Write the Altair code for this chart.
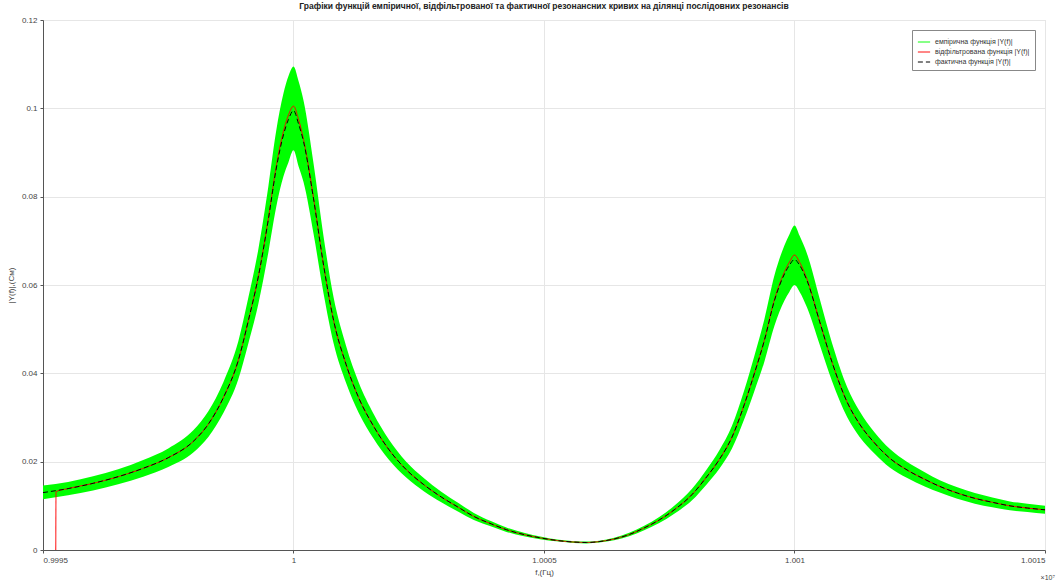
import altair as alt
import pandas as pd

BASE_HZ = 9995000

# frequency offsets (Hz) from 9 995 000 Hz
freq_offset_hz = [0, 500, 1000, 1500, 2000, 2500, 3000, 3300, 3600, 3900, 4100, 4300, 4500,
                  4650, 4800, 4900, 5000, 5100, 5200, 5400, 5600, 5800, 6050, 6300, 6600,
                  6900, 7250, 7600, 7950, 8300, 8600, 8950, 9250, 9600, 9950, 10300, 10600,
                  10850, 11100, 11400, 11700, 12000, 12300, 12600, 12950, 13250, 13500,
                  13750, 14000, 14200, 14400, 14600, 14800, 14900, 15000, 15100, 15250,
                  15500, 15750, 16050, 16300, 16600, 16900, 17250, 17600, 17900, 18250,
                  18600, 18950, 19300, 19650, 20000]

# actual (black dashed) |Y(f)|
actual = [0.0130, 0.0139, 0.0151, 0.0166, 0.0185, 0.0209, 0.0246, 0.0285, 0.0345, 0.0430,
          0.0520, 0.0620, 0.0750, 0.0860, 0.0940, 0.0975, 0.0995, 0.0965, 0.0925, 0.0795,
          0.0645, 0.0520, 0.0420, 0.0345, 0.0280, 0.0228, 0.0182, 0.0148, 0.0120, 0.0096,
          0.0076, 0.0059, 0.0046, 0.0035, 0.0027, 0.0021, 0.0018, 0.0017, 0.0019, 0.0025,
          0.0035, 0.0050, 0.0068, 0.0091, 0.0125, 0.0166, 0.0205, 0.0255, 0.0330, 0.0400,
          0.0475, 0.0565, 0.0625, 0.0645, 0.0658, 0.0645, 0.0610, 0.0518, 0.0425, 0.0335,
          0.0285, 0.0242, 0.0208, 0.0181, 0.0160, 0.0144, 0.0129, 0.0117, 0.0108, 0.0100,
          0.0095, 0.0091]

# empirical (green) band envelope
emp_upper = [0.0146, 0.0154, 0.0167, 0.0183, 0.0204, 0.0230, 0.0271, 0.0314, 0.0380, 0.0473,
             0.0572, 0.0682, 0.0825, 0.0946, 0.1034, 0.1073, 0.1095, 0.1062, 0.1018, 0.0875,
             0.0710, 0.0572, 0.0462, 0.0380, 0.0308, 0.0251, 0.0200, 0.0163, 0.0132, 0.0106,
             0.0084, 0.0065, 0.0051, 0.0039, 0.0030, 0.0023, 0.0020, 0.0019, 0.0021, 0.0028,
             0.0039, 0.0055, 0.0075, 0.0100, 0.0138, 0.0183, 0.0226, 0.0281, 0.0363, 0.0440,
             0.0523, 0.0622, 0.0690, 0.0715, 0.0735, 0.0712, 0.0671, 0.0570, 0.0468, 0.0369,
             0.0314, 0.0266, 0.0229, 0.0199, 0.0176, 0.0158, 0.0142, 0.0129, 0.0119, 0.0110,
             0.0105, 0.0100]
emp_lower = [0.0115, 0.0124, 0.0135, 0.0149, 0.0166, 0.0188, 0.0221, 0.0256, 0.0310, 0.0387,
             0.0468, 0.0558, 0.0675, 0.0774, 0.0846, 0.0878, 0.0905, 0.0869, 0.0833, 0.0716,
             0.0581, 0.0468, 0.0378, 0.0311, 0.0252, 0.0205, 0.0164, 0.0133, 0.0108, 0.0086,
             0.0068, 0.0053, 0.0041, 0.0031, 0.0024, 0.0019, 0.0016, 0.0015, 0.0017, 0.0022,
             0.0031, 0.0045, 0.0061, 0.0082, 0.0112, 0.0149, 0.0184, 0.0229, 0.0297, 0.0360,
             0.0427, 0.0508, 0.0565, 0.0585, 0.0600, 0.0585, 0.0549, 0.0466, 0.0382, 0.0301,
             0.0256, 0.0218, 0.0187, 0.0163, 0.0144, 0.0130, 0.0116, 0.0105, 0.0097, 0.0090,
             0.0086, 0.0082]

# filtered (red) |Y(f)| — starts with the filter transient at ~260 Hz
filt_offset_hz = [255, 260] + freq_offset_hz[1:]
filtered = [0.0, 0.0132, 0.0139, 0.0151, 0.0166, 0.0185, 0.0209, 0.0246, 0.0285, 0.0345, 0.0430,
            0.0520, 0.0620, 0.0752, 0.0865, 0.0948, 0.0985, 0.1005, 0.0975, 0.0930, 0.0797,
            0.0645, 0.0520, 0.0420, 0.0345, 0.0280, 0.0228, 0.0182, 0.0148, 0.0120, 0.0096,
            0.0076, 0.0059, 0.0046, 0.0035, 0.0027, 0.0021, 0.0018, 0.0017, 0.0019, 0.0025,
            0.0035, 0.0050, 0.0068, 0.0091, 0.0125, 0.0166, 0.0205, 0.0255, 0.0330, 0.0400,
            0.0476, 0.0567, 0.0630, 0.0652, 0.0668, 0.0652, 0.0613, 0.0518, 0.0425, 0.0335,
            0.0285, 0.0242, 0.0208, 0.0181, 0.0160, 0.0144, 0.0129, 0.0117, 0.0108, 0.0100,
            0.0095, 0.0091]

series_names = ["емпірична функція |Y(f)|", "відфільтрована функція |Y(f)|", "фактична функція |Y(f)|"]
series_colors = ["#00ff00", "#ff0000", "#000000"]
series_dash = [[1, 0], [1, 0], [5, 3]]

x_ticks = [0.9995, 1, 1.0005, 1.001, 1.0015]
y_ticks = [0, 0.02, 0.04, 0.06, 0.08, 0.1, 0.12]

band = pd.DataFrame({
    "f": [(BASE_HZ + o) / 1e7 for o in freq_offset_hz],
    "lo": emp_lower,
    "hi": emp_upper,
})

rows = []
for i, (o, v) in enumerate(zip(filt_offset_hz, filtered)):
    rows.append({"f": (BASE_HZ + o) / 1e7, "y": v, "series": series_names[1], "idx": i})
for i, (o, v) in enumerate(zip(freq_offset_hz, actual)):
    rows.append({"f": (BASE_HZ + o) / 1e7, "y": v, "series": series_names[2], "idx": i})
lines = pd.DataFrame(rows)

FONT = "Liberation Sans"
W, H = 1002, 530

xscale = alt.Scale(domain=[0.9995, 1.0015], nice=False, zero=False)
yscale = alt.Scale(domain=[0, 0.12], nice=False, zero=True)

xaxis = alt.Axis(values=x_ticks, format="~g", title="f,(Гц)", grid=True,
                 gridColor="#e6e6e6", labelFontSize=8, titleFontSize=8,
                 labelColor="#444", titleColor="#444", domainColor="#555",
                 tickColor="#555", tickSize=3, labelPadding=3, titlePadding=4,
                 labelFont=FONT, titleFont=FONT, titleFontWeight="normal")
yaxis = alt.Axis(values=y_ticks, format="~g", title="|Y(f)|,(См)", grid=True,
                 gridColor="#e6e6e6", labelFontSize=8, titleFontSize=8,
                 labelColor="#444", titleColor="#444", domainColor="#555",
                 tickColor="#555", tickSize=3, labelPadding=3, titlePadding=6,
                 labelFont=FONT, titleFont=FONT, titleFontWeight="normal")

legend_cfg = dict(title=None, orient="top-right", offset=10,
                  symbolType="stroke", symbolStrokeWidth=1,
                  symbolSize=150, labelFontSize=7, labelFont=FONT,
                  labelColor="#333", padding=5, rowPadding=0,
                  strokeColor="#888", fillColor="white")

area = alt.Chart(band).mark_area(color="#00ff00", opacity=1, line=False,
                                 interpolate="monotone").encode(
    x=alt.X("f:Q", scale=xscale, axis=xaxis),
    y=alt.Y("lo:Q", scale=yscale, axis=yaxis),
    y2="hi:Q",
)

line_layer = alt.Chart(lines).mark_line(strokeWidth=1, interpolate="monotone").encode(
    x=alt.X("f:Q", scale=xscale),
    y=alt.Y("y:Q", scale=yscale),
    color=alt.Color("series:N", scale=alt.Scale(domain=series_names, range=series_colors),
                    legend=alt.Legend(**legend_cfg)),
    strokeDash=alt.StrokeDash("series:N", scale=alt.Scale(domain=series_names, range=series_dash),
                              legend=alt.Legend(**legend_cfg)),
    detail="series:N",
    order=alt.Order("idx:Q"),
)

exp_label = alt.Chart(pd.DataFrame({"t": ["×10⁷"]})).mark_text(
    align="right", baseline="middle", fontSize=7, font=FONT, color="#444"
).encode(text="t:N", x=alt.value(W + 10), y=alt.value(H + 28))

chart = alt.layer(area, line_layer, exp_label).properties(
    width=W, height=H,
    title=alt.TitleParams(
        "Графіки функцій емпіричної, відфільтрованої та фактичної резонансних кривих на ділянці послідовних резонансів",
        fontSize=8.5, font=FONT, fontWeight="bold", color="#222", anchor="middle", offset=6),
    autosize=alt.AutoSizeParams(type="none"),
    padding={"left": 43, "top": 20, "right": 17, "bottom": 32},
).configure_view(stroke="#555", strokeWidth=1).configure(background="white")

chart.save("out.html", embed_options={"renderer": "svg", "actions": False})
